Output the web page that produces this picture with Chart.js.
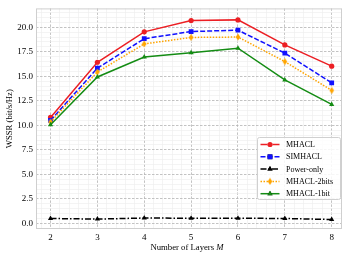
<!DOCTYPE html>
<html>
<head>
<meta charset="utf-8">
<script src="https://cdn.jsdelivr.net/npm/chart.js@4/dist/chart.umd.min.js"></script>
<style>
  html, body { margin: 0; padding: 0; background: #fff; }
  canvas { display: block; }
</style>
</head>
<body>
<canvas id="chart" width="350" height="259"></canvas>
<script>
// --- data ---
const layers = [2, 3, 4, 5, 6, 7, 8];
const mhacl      = [10.8, 16.43, 19.53, 20.68, 20.75, 18.2, 16.03];
const simhacl    = [10.5, 15.83, 18.83, 19.56, 19.7, 17.36, 14.33];
const powerOnly  = [0.5, 0.44, 0.55, 0.53, 0.53, 0.5, 0.4];
const mhacl2bits = [10.35, 15.43, 18.3, 18.96, 19.0, 16.5, 13.56];
const mhacl1bit  = [10.06, 14.93, 16.96, 17.4, 17.86, 14.63, 12.13];
const yTickLabels = [0, 2.5, 5, 7.5, 10, 12.5, 15, 17.5, 20];
const xTickLabels = layers;

const SERIF = "'Liberation Serif', 'Times New Roman', serif";

const near = (a, b) => Math.abs(a - b) < 1e-6;
const isMajorX = v => xTickLabels.some(t => near(t, v));
const isMajorY = v => yTickLabels.some(t => near(t, v));

const toPoints = arr => layers.map((x, i) => ({ x: x, y: arr[i] }));

// thin diamond marker like matplotlib 'd'
const thinDiamond = document.createElement('canvas');
thinDiamond.width = 6; thinDiamond.height = 8;
(function () {
    const c = thinDiamond.getContext('2d');
    c.fillStyle = '#ffa500';
    c.beginPath();
    c.moveTo(3, 0.5); c.lineTo(5.3, 4); c.lineTo(3, 7.5); c.lineTo(0.7, 4);
    c.closePath(); c.fill();
})();

const series = [
    { label: 'MHACL', data: mhacl, color: '#ec1f24', dash: [], point: 'circle', r: 2.6 },
    { label: 'SIMHACL', data: simhacl, color: '#1010ff', dash: [5, 2], point: 'rect', r: 3.4 },
    { label: 'Power-only', data: powerOnly, color: '#000000', dash: [6, 2, 1.5, 2], point: 'triangle', r: 3 },
    { label: 'MHACL-2bits', data: mhacl2bits, color: '#ffa500', dash: [1.5, 1.5], point: thinDiamond, r: 3 },
    { label: 'MHACL-1bit', data: mhacl1bit, color: '#148c14', dash: [], point: 'triangle', r: 3 }
];

const datasets = series.map((s, i) => ({
    label: s.label,
    data: toPoints(s.data),
    borderColor: s.color,
    backgroundColor: s.color,
    borderWidth: 1.5,
    borderDash: s.dash,
    pointStyle: s.point,
    pointRadius: s.r,
    pointBorderWidth: 0,
    pointBackgroundColor: s.color,
    tension: 0,
    order: series.length - i
}));

// frame around the plot area
const framePlugin = {
    id: 'frame',
    beforeDatasetsDraw(chart) {
        const { ctx, chartArea: a } = chart;
        ctx.save();
        ctx.strokeStyle = '#cfcfcf';
        ctx.lineWidth = 1;
        ctx.strokeRect(a.left + 0.5, a.top + 0.5, a.right - a.left - 1, a.bottom - a.top - 1);
        ctx.restore();
    }
};

// x title with italic M, like the mathtext label
const xTitlePlugin = {
    id: 'xTitle',
    afterDraw(chart) {
        const { ctx, chartArea: a } = chart;
        const plain = 'Number of Layers ';
        ctx.save();
        ctx.fillStyle = '#000';
        ctx.textBaseline = 'middle';
        ctx.font = '8.7px ' + SERIF;
        const w1 = ctx.measureText(plain).width;
        ctx.font = 'italic 8.7px ' + SERIF;
        const w2 = ctx.measureText('M').width;
        const x0 = (a.left + a.right) / 2 - 2 - (w1 + w2) / 2;
        const y = 248;
        ctx.font = '8.7px ' + SERIF;
        ctx.textAlign = 'left';
        ctx.fillText(plain, x0, y);
        ctx.font = 'italic 8.7px ' + SERIF;
        ctx.fillText('M', x0 + w1, y);
        ctx.restore();
    }
};

// matplotlib style legend: line sample with marker in the middle
const legendPlugin = {
    id: 'mplLegend',
    afterDraw(chart) {
        const { ctx } = chart;
        const bx = 257.5, by = 137.5, bw = 83, bh = 62;
        ctx.save();
        ctx.fillStyle = 'rgba(255,255,255,0.85)';
        ctx.strokeStyle = '#d0d0d0';
        ctx.lineWidth = 1;
        ctx.beginPath();
        ctx.roundRect(bx, by, bw, bh, 2);
        ctx.fill();
        ctx.stroke();
        series.forEach((s, i) => {
            const y = 144.5 + i * 12.3;
            ctx.strokeStyle = s.color;
            ctx.lineWidth = 1.5;
            ctx.setLineDash(s.dash);
            ctx.beginPath();
            ctx.moveTo(260.5, y);
            ctx.lineTo(279.5, y);
            ctx.stroke();
            ctx.setLineDash([]);
            Chart.helpers.drawPoint(ctx, {
                pointStyle: s.point, radius: s.r, rotation: 0, borderWidth: 0
            }, 270, y);
            ctx.fillStyle = s.color;
            ctx.fill();
            ctx.fillStyle = '#000';
            ctx.font = '8px ' + SERIF;
            ctx.textAlign = 'left';
            ctx.textBaseline = 'middle';
            ctx.fillText(s.label, 286, y + 0.5);
        });
        ctx.restore();
    }
};

const majorGrid = '#b4b4b4';
const minorGrid = '#ececec';

new Chart(document.getElementById('chart').getContext('2d'), {
    type: 'line',
    data: { datasets: datasets },
    options: {
        responsive: false,
        animation: false,
        devicePixelRatio: 1,
        layout: { padding: { top: 4, right: 8, left: 0, bottom: 0 } },
        plugins: { legend: { display: false }, tooltip: { enabled: false } },
        scales: {
            x: {
                type: 'linear',
                min: 1.69,
                max: 8.22,
                afterFit: scale => { scale.height = 30; },
                ticks: {
                    stepSize: 0.2,
                    includeBounds: false,
                    autoSkip: false,
                    maxRotation: 0,
                    padding: 3,
                    color: '#000',
                    font: { family: SERIF, size: 9 },
                    callback: v => isMajorX(v) ? String(Math.round(v)) : ''
                },
                grid: {
                    drawTicks: false,
                    color: c => (c.tick && isMajorX(c.tick.value)) ? majorGrid : minorGrid,
                    lineWidth: c => (c.tick && isMajorX(c.tick.value)) ? 0.8 : 0.6
                },
                border: {
                    display: false,
                    dash: c => (c.tick && isMajorX(c.tick.value)) ? [2.5, 1.5] : []
                }
            },
            y: {
                type: 'linear',
                min: -0.57,
                max: 21.92,
                afterFit: scale => { scale.width = 36; },
                title: {
                    display: true,
                    text: 'WSSR (bit/s/Hz)',
                    color: '#000',
                    font: { family: SERIF, size: 8.7 },
                    padding: { top: 4, bottom: 0 }
                },
                ticks: {
                    stepSize: 0.5,
                    includeBounds: false,
                    autoSkip: false,
                    padding: 3,
                    color: '#000',
                    font: { family: SERIF, size: 9 },
                    callback: v => isMajorY(v) ? v.toFixed(1) : ''
                },
                grid: {
                    drawTicks: false,
                    color: c => (c.tick && isMajorY(c.tick.value)) ? majorGrid : minorGrid,
                    lineWidth: c => (c.tick && isMajorY(c.tick.value)) ? 0.8 : 0.6
                },
                border: {
                    display: false,
                    dash: c => (c.tick && isMajorY(c.tick.value)) ? [2.5, 1.5] : []
                }
            }
        }
    },
    plugins: [framePlugin, xTitlePlugin, legendPlugin]
});
</script>
</body>
</html>
